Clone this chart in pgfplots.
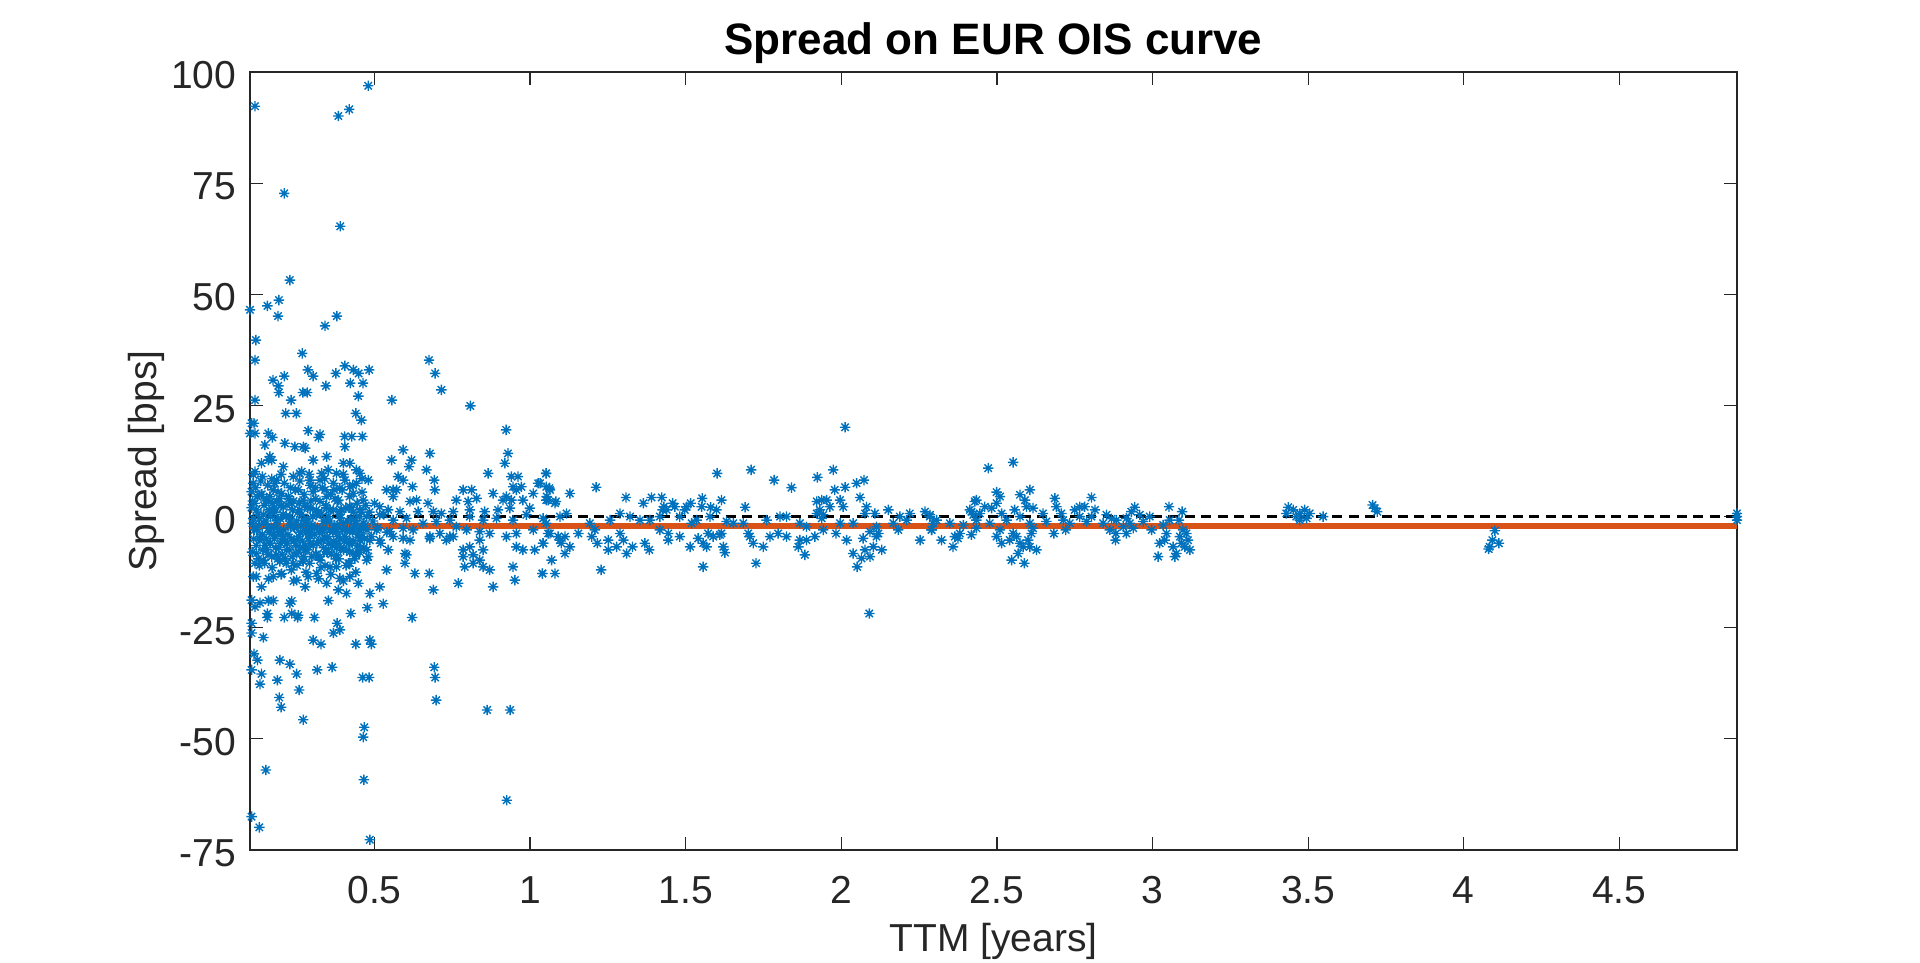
\documentclass[border=0pt]{standalone}
\usepackage{fontspec}
\setmainfont{Liberation Sans}
\usepackage{pgfplots}
\usepackage{pgfplotstable}
\pgfplotsset{compat=1.18}
\definecolor{mblue}{HTML}{0072BD}
\definecolor{morange}{HTML}{D95319}
\definecolor{axgray}{HTML}{262626}
\pgfdeclareplotmark{mstar}{%
  \pgfpathmoveto{\pgfqpoint{-\pgfplotmarksize}{0pt}}\pgfpathlineto{\pgfqpoint{\pgfplotmarksize}{0pt}}%
  \pgfpathmoveto{\pgfqpoint{0pt}{-\pgfplotmarksize}}\pgfpathlineto{\pgfqpoint{0pt}{\pgfplotmarksize}}%
  \pgfpathmoveto{\pgfqpoint{-.7071\pgfplotmarksize}{-.7071\pgfplotmarksize}}\pgfpathlineto{\pgfqpoint{.7071\pgfplotmarksize}{.7071\pgfplotmarksize}}%
  \pgfpathmoveto{\pgfqpoint{-.7071\pgfplotmarksize}{.7071\pgfplotmarksize}}\pgfpathlineto{\pgfqpoint{.7071\pgfplotmarksize}{-.7071\pgfplotmarksize}}%
  \pgfusepathqstroke}
\pgfplotstableread{
x y
0.116 92.3
0.384 90.1
0.419 91.6
0.48 96.9
0.21 72.7
0.39 65.3
0.228 53.2
0.1 46.5
0.156 47.4
0.193 48.7
0.19 45.1
0.341 42.9
0.379 45.1
0.119 39.7
0.116 35.2
0.268 36.7
0.286 33
0.303 31.6
0.174 30.7
0.21 31.6
0.191 29.4
0.193 27.9
0.116 26.2
0.232 26.2
0.27 27.9
0.284 27.9
0.344 29.4
0.376 32.2
0.405 33.9
0.432 33
0.449 32.2
0.483 33
0.422 30
0.463 30
0.448 27.1
0.215 23.2
0.249 23.2
0.105 21
0.113 21
0.1 18.7
0.116 18.7
0.44 23.2
0.458 21.7
0.556 26.2
0.675 35.2
0.695 32.2
0.715 28.5
0.808 24.9
0.923 19.5
0.159 18.7
0.172 17.8
0.287 19.3
0.325 18.5
0.32 17.8
0.404 18
0.427 18
0.461 18
0.116 -20.3
0.132 -19.4
0.159 -18.9
0.175 -18.9
0.228 -19.5
0.234 -19
0.156 -21.8
0.156 -22.7
0.21 -22.7
0.234 -21.8
0.253 -22.7
0.255 -22.2
0.307 -22.7
0.352 -18.9
0.424 -21.8
0.477 -20.5
0.528 -19.6
0.621 -22.7
0.38 -24
0.389 -25.5
0.368 -26.2
0.105 -24
0.105 -26.2
0.143 -27.2
0.303 -27.8
0.328 -28.7
0.44 -28.7
0.485 -27.8
0.49 -28.7
0.113 -30.9
0.124 -32.3
0.196 -32.3
0.228 -33.2
0.105 -34.5
0.137 -35.4
0.132 -37.7
0.188 -36.8
0.25 -35.4
0.316 -34.5
0.364 -33.9
0.462 -36.2
0.483 -36.2
0.692 -33.9
0.695 -36.2
0.698 -41.3
0.258 -39
0.194 -40.7
0.2 -42.9
0.271 -45.7
0.862 -43.5
0.936 -43.5
0.467 -47.4
0.464 -49.6
0.151 -57
0.466 -59.2
0.925 -63.8
0.105 -67.5
0.13 -69.9
0.485 -72.7
0.105 -18.8
0.148 16.1
0.212 16.5
0.244 15.7
0.271 15.7
0.277 15.4
0.405 15.7
0.592 15.0
0.678 14.2
0.929 14.2
0.164 13.5
0.159 12.7
0.137 12.0
0.17 12.7
0.346 13.5
0.303 12.7
0.4 12.0
0.421 12.0
0.555 12.7
0.619 12.7
0.611 11.2
0.919 12.0
0.116 10.1
0.111 9.4
0.207 11.2
0.266 10.1
0.26 9.7
0.33 9.7
0.351 10.5
0.378 9.7
0.442 10.5
0.453 9.7
0.576 9.0
0.667 10.5
0.865 9.7
0.94 9.0
0.961 9.0
1.052 9.7
0.186 8.2
0.18 7.5
0.239 9.0
0.293 8.2
0.325 8.2
0.368 7.5
0.405 8.2
0.442 7.5
0.48 8.2
0.592 8.2
0.692 8.2
0.945 6.7
0.972 6.7
1.026 7.5
0.105 5.6
0.132 4.9
0.175 6.0
0.164 4.5
0.202 5.2
0.255 6.0
0.223 4.5
0.303 5.6
0.341 6.0
0.389 6.4
0.432 5.2
0.421 6.7
0.539 6.0
0.56 6.0
0.571 6.0
0.622 6.7
0.694 6.0
0.785 6.0
0.812 6.0
0.881 5.2
0.924 4.5
0.956 6.0
1.01 5.2
1.052 6.7
0.116 3.0
0.154 3.7
0.186 3.4
0.234 3.0
0.271 3.7
0.325 3.4
0.346 4.5
0.384 3.7
0.464 3.7
0.56 4.5
0.614 3.4
0.635 3.7
0.672 3.0
0.763 3.7
0.801 3.4
0.828 4.1
0.913 3.7
0.94 3.7
0.977 3.7
1.052 3.7
0.121 1.5
0.164 1.1
0.207 2.2
0.26 1.5
0.293 1.9
0.357 1.5
0.389 1.1
0.421 2.2
0.453 1.5
0.517 2.2
0.544 1.5
0.582 1.1
0.64 1.1
0.689 1.1
0.715 0.7
0.753 1.1
0.806 1.5
0.854 1.1
0.897 1.5
0.935 1.9
0.999 1.9
0.111 -0.4
0.143 0.4
0.186 -0.8
0.228 0
0.271 -0.8
0.314 0.4
0.346 -1.1
0.389 -0.4
0.432 -0.8
0.475 0
0.517 0.4
0.56 -0.8
0.603 -0.4
0.656 -1.5
0.699 -1.1
0.742 -0.8
0.763 -2.3
0.806 0
0.849 -0.8
0.892 -0.4
0.945 -0.8
0.988 0.4
1.042 -0.4
1.052 -1.5
0.121 -3.0
0.159 -2.6
0.196 -3.4
0.239 -2.3
0.287 -3.0
0.335 -2.6
0.378 -3.4
0.421 -3.0
0.464 -2.6
0.507 -3.0
0.549 -3.4
0.592 -2.6
0.624 -3.0
0.678 -4.5
0.71 -3.8
0.753 -4.5
0.796 -3.0
0.838 -3.4
0.87 -3.8
0.956 -3.8
1.01 -3.0
1.058 -3.8
0.132 -5.3
0.164 -6.0
0.207 -4.9
0.25 -5.3
0.293 -6.0
0.335 -5.3
0.378 -6.0
0.421 -5.6
0.453 -5.3
0.485 -5.3
0.517 -5.3
0.56 -4.5
0.592 -4.9
0.614 -5.3
0.678 -4.9
0.731 -5.3
0.742 -4.5
0.785 -7.5
0.806 -6.8
0.838 -5.3
0.849 -7.5
0.924 -4.5
0.956 -6.8
0.977 -7.5
1.015 -7.5
1.042 -6.0
0.121 -8.3
0.154 -7.5
0.186 -8.6
0.218 -7.5
0.25 -8.3
0.277 -7.5
0.314 -8.6
0.346 -7.9
0.378 -8.6
0.41 -7.5
0.442 -8.3
0.475 -7.5
0.544 -7.5
0.598 -8.3
0.603 -8.6
0.785 -9.0
0.817 -8.6
0.838 -9.8
0.116 -10.5
0.143 -9.8
0.196 -10.1
0.239 -10.5
0.271 -10.1
0.325 -9.8
0.357 -11.3
0.378 -11.3
0.421 -10.5
0.475 -9.8
0.598 -10.5
0.79 -11.3
0.817 -10.5
0.849 -11.3
0.87 -12.0
0.945 -11.3
0.111 -13.5
0.175 -13.5
0.202 -12.8
0.25 -14.3
0.287 -13.5
0.314 -12.8
0.346 -15.0
0.389 -13.9
0.421 -13.5
0.448 -15.0
0.539 -12.0
0.63 -12.8
0.676 -12.8
0.769 -15.0
0.881 -15.8
0.951 -14.3
1.039 -12.8
0.137 -15.8
0.277 -15.8
0.384 -16.5
0.41 -17.3
0.485 -17.3
0.517 -15.8
0.689 -16.5
0.105 2.0
0.108 -1.5
0.112 -5.0
0.118 6.5
0.125 0.5
0.128 -2.0
0.13 -11.0
0.135 8.0
0.14 -4.0
0.145 2.5
0.148 -6.5
0.152 -1.0
0.157 7.0
0.162 -3.5
0.166 0.0
0.17 -9.0
0.172 3.0
0.178 -5.0
0.18 1.0
0.184 -2.5
0.19 5.5
0.193 -7.0
0.198 -0.5
0.2 2.5
0.205 -4.5
0.21 7.5
0.213 -9.5
0.216 0.0
0.22 -6.0
0.225 4.0
0.23 -2.0
0.233 -12.0
0.237 1.5
0.242 -5.5
0.246 6.0
0.25 -1.0
0.255 -8.0
0.258 3.0
0.262 -3.5
0.266 0.5
0.27 -10.0
0.274 5.0
0.278 -6.5
0.282 -1.5
0.286 2.0
0.29 -4.0
0.294 7.0
0.298 -9.0
0.302 0.0
0.306 -2.5
0.31 4.0
0.315 -6.0
0.32 1.0
0.324 -3.5
0.328 -11.5
0.332 6.5
0.336 -1.0
0.34 -5.0
0.344 2.5
0.348 -8.0
0.352 0.0
0.356 -3.0
0.36 5.0
0.364 -6.5
0.368 1.5
0.372 -2.0
0.376 -9.5
0.38 3.5
0.384 -4.5
0.388 0.5
0.392 -7.0
0.396 6.0
0.4 -1.5
0.404 -5.5
0.408 2.0
0.412 -3.0
0.416 -10.5
0.42 4.5
0.424 -0.5
0.428 -6.0
0.432 1.0
0.436 -2.5
0.44 -8.5
0.444 3.0
0.448 -4.0
0.452 0.0
0.456 -7.0
0.46 5.5
0.464 -1.5
0.468 -5.0
0.472 2.5
0.476 -3.0
0.48 -9.0
0.484 1.0
0.49 -4.5
0.495 -1.0
0.5 3.0
0.51 -2.5
0.52 -6.0
0.53 0.5
0.54 -3.5
0.107 -8.0
0.109 3.5
0.114 -3.0
0.12 -6.5
0.123 4.5
0.127 -9.5
0.131 -0.5
0.134 -4.5
0.138 5.0
0.141 -7.5
0.144 -1.5
0.147 -10.5
0.15 3.5
0.153 -5.0
0.158 -8.5
0.161 1.5
0.165 -6.0
0.168 -2.5
0.171 -11.5
0.176 -4.0
0.179 2.0
0.182 -7.0
0.187 -1.0
0.189 -9.5
0.192 -3.5
0.196 4.0
0.199 -6.0
0.203 -8.5
0.206 0.5
0.209 -3.0
0.212 -5.5
0.217 -10.5
0.219 2.5
0.222 -4.0
0.226 -7.5
0.229 -1.0
0.232 -5.0
0.236 -9.0
0.24 3.5
0.243 -2.5
0.247 -6.5
0.251 -11.0
0.254 1.0
0.257 -4.5
0.261 -7.0
0.264 -2.0
0.268 -5.5
0.272 -9.0
0.275 2.5
0.279 -3.5
0.283 -7.5
0.285 -0.5
0.289 -5.0
0.292 -10.5
0.296 3.5
0.299 -2.0
0.303 -6.5
0.307 -4.0
0.311 -8.5
0.313 1.5
0.317 -2.5
0.321 -5.5
0.325 -9.0
0.329 0.5
0.333 -3.5
0.337 -7.0
0.341 -11.0
0.345 2.0
0.349 -4.5
0.353 -6.0
0.357 -1.0
0.361 -8.5
0.365 -3.5
0.369 -5.5
0.373 4.0
0.377 -7.0
0.381 -2.0
0.385 -9.5
0.389 -5.0
0.393 1.5
0.397 -3.0
0.401 -7.5
0.405 -4.5
0.409 -11.0
0.413 -1.0
0.417 -6.0
0.421 -8.0
0.425 2.0
0.429 -3.5
0.433 -5.5
0.437 -9.5
0.441 -1.5
0.445 -6.5
0.449 -3.0
0.453 -8.0
0.457 1.0
0.461 -4.5
0.465 -7.0
0.469 -2.0
0.11 7.5
0.14 9.0
0.17 8.5
0.2 9.5
0.23 6.5
0.26 8.0
0.29 9.5
0.31 6.5
0.34 8.5
0.37 6.0
0.4 9.5
0.43 7.0
0.46 8.5
0.12 -13.5
0.16 -14.0
0.2 -13.0
0.24 -14.5
0.28 -12.5
0.32 -14.0
0.36 -13.0
0.4 -14.5
0.44 -12.5
1.032 7.5
1.051 9.7
1.062 6.4
1.053 4.5
1.058 3.7
1.064 6.0
1.08 3.0
1.083 3.4
1.128 5.2
1.212 6.6
1.308 4.3
1.364 3.0
1.39 4.3
1.423 4.3
1.43 2.2
1.439 1.5
1.426 1.5
1.458 3.0
1.465 2.2
1.503 2.2
1.516 3.0
1.497 1.5
1.553 4.1
1.551 2.2
1.58 2.1
1.599 1.5
1.615 3.7
1.601 9.7
1.691 2.1
1.71 10.5
1.784 8.2
1.84 6.5
1.923 8.8
1.974 10.5
1.979 6.0
2.012 6.6
2.049 7.5
2.073 8.2
2.06 4.3
2.012 20.1
1.921 3.4
1.937 3.7
1.953 3.7
1.963 2.2
1.996 3.7
2.006 2.2
1.931 1.5
1.942 0.4
1.921 0.7
1.937 -0.4
2.081 2.2
2.108 0.7
2.076 0.7
2.151 1.5
2.188 0.0
2.22 0.7
2.269 1.1
2.285 0.4
2.09 -21.8
2.051 -11.3
2.038 -8.3
2.065 -9.4
2.092 -9.0
2.076 -7.5
2.103 -6.8
2.13 -7.5
2.017 -5.3
2.07 -4.9
2.113 -4.5
2.092 -3.4
2.119 -3.8
1.042 -6.0
1.069 -9.8
1.04 -12.8
1.08 -12.8
1.064 -3.8
1.09 -4.5
1.1 -6.0
1.112 -4.5
1.128 -6.8
1.112 -8.3
1.096 -5.3
1.155 -3.8
1.198 -4.5
1.208 -3.0
1.216 -6.0
1.251 -5.3
1.251 -7.5
1.278 -6.8
1.289 -3.8
1.3 -5.3
1.31 -8.3
1.329 -6.8
1.228 -12.0
1.369 -6.0
1.383 -7.5
1.417 -3.0
1.444 -5.3
1.444 -3.8
1.481 -4.5
1.514 -6.8
1.54 -4.9
1.556 -6.0
1.567 -6.8
1.588 -4.5
1.615 -3.8
1.621 -6.8
1.626 -8.1
1.61 -4.1
1.572 -3.8
1.556 -11.3
1.701 -3.8
1.706 -4.5
1.717 -6.0
1.749 -6.8
1.771 -4.5
1.797 -3.8
1.824 -4.5
1.867 -5.3
1.862 -6.8
1.883 -8.6
1.888 -5.3
1.915 -4.5
1.942 -3.0
1.983 -3.8
1.726 -10.5
2.183 -3.0
2.253 -5.3
2.29 -3.0
1.096 0.0
1.117 0.7
1.192 -1.5
1.257 -0.8
1.289 0.7
1.321 0.0
1.353 -0.8
1.385 -0.8
1.417 0.0
1.481 0.0
1.519 -1.5
1.535 -0.8
1.578 0.0
1.631 -1.1
1.653 -1.5
1.685 -1.5
1.76 -0.8
1.803 0.0
1.824 0.0
1.867 -1.5
1.888 -2.3
1.996 -1.5
2.038 -1.5
2.113 -2.3
2.167 -1.5
2.21 -0.8
2.295 -1.5
2.472 10.9
2.552 12.2
2.499 5.5
2.51 4.5
2.434 3.7
2.429 3.4
2.499 3.0
2.461 2.2
2.483 1.9
2.574 4.9
2.606 6.0
2.59 3.7
2.595 2.2
2.616 1.9
2.557 1.5
2.515 0.7
2.418 1.1
2.445 0.7
2.424 0.4
2.413 1.5
2.686 4.1
2.691 2.2
2.648 0.7
2.707 0.7
2.75 1.5
2.766 2.2
2.782 2.2
2.804 4.3
2.815 1.5
2.852 0.4
2.868 -0.5
2.804 0.0
2.766 0.0
2.713 -0.8
2.943 2.1
2.932 1.1
2.959 0.4
2.916 -0.4
2.927 -1.5
2.906 -2.3
2.938 -2.6
3.053 2.2
3.095 1.1
3.055 -0.8
3.085 -0.8
2.29 -3.0
2.322 -5.3
2.359 -6.8
2.365 -4.5
2.381 -3.8
2.375 -4.9
2.418 -4.1
2.434 -2.6
2.499 -4.5
2.515 -6.0
2.51 -3.0
2.541 -5.3
2.552 -3.8
2.547 -9.8
2.568 -8.3
2.588 -10.5
2.574 -6.0
2.6 -5.3
2.606 -6.8
2.627 -7.5
2.584 -6.8
2.611 -3.8
2.616 -2.6
2.563 -4.5
2.683 -3.8
2.721 -3.0
2.863 -3.0
2.882 -3.8
2.881 -5.3
2.916 -3.8
2.997 -3.0
3.018 -9.0
3.023 -6.0
3.045 -3.8
3.039 -5.3
3.066 -6.8
3.072 -9.0
3.077 -8.3
3.088 -4.5
3.093 -6.0
3.109 -3.8
3.114 -5.3
3.12 -7.5
3.104 -6.8
3.098 -3.0
2.284 0.0
2.306 -0.8
2.349 -1.5
2.392 -1.9
2.434 -0.8
2.477 -1.5
2.531 -0.8
2.574 0.0
2.606 -1.5
2.659 -1.1
2.734 -1.5
2.788 -1.1
2.841 -1.5
2.884 -0.8
2.97 -1.1
2.991 0.0
3.034 -1.9
3.436 2.1
3.43 0.7
3.452 1.5
3.473 0.7
3.489 1.5
3.505 0.7
3.462 0.0
3.473 -0.8
3.495 -0.4
3.548 0.0
3.707 2.6
3.714 1.9
3.722 1.1
4.1 -3.2
4.092 -5.3
4.113 -6.0
4.083 -6.8
4.08 -7.3
4.878 0.7
4.878 0.0
4.878 -0.8
}\spreaddata
\begin{document}
\begin{tikzpicture}
\begin{axis}[
  at={(0,0)}, anchor=south west,
  width=743.5bp, height=389bp, scale only axis,
  xmin=0.1, xmax=4.878, ymin=-75, ymax=100,
  xtick={0.5,1,1.5,2,2.5,3,3.5,4,4.5},
  xticklabels={0.5,1,1.5,2,2.5,3,3.5,4,4.5},
  ytick={-75,-50,-25,0,25,50,75,100},
  yticklabels={-75,-50,-25,0,25,50,75,100},
  tick align=inside,
  major tick length=6.5bp,
  axis line style={axgray, line width=0.6bp},
  every tick/.style={axgray, line width=0.6bp},
  clip=false,
  tick label style={font=\fontsize{19.5bp}{23bp}\selectfont, text=axgray, inner sep=0pt},
  xticklabel style={anchor=base, yshift=-26.7bp},
  yticklabel style={anchor=base east, xshift=-6.65bp, yshift=-8.35bp},
  every axis title shift=0pt,
  title={Spread on EUR OIS curve},
  title style={at={(axis description cs:0.5,1.0225)}, anchor=base, yshift=0pt, font=\bfseries\fontsize{22bp}{26bp}\selectfont, text=black, inner sep=0pt},
  xlabel={TTM [years]},
  xlabel style={at={(axis description cs:0.5,-0.1307)}, anchor=base, font=\fontsize{19.5bp}{23bp}\selectfont, text=axgray, inner sep=0pt},
  ylabel={Spread [bps]},
  ylabel style={at={(axis description cs:-0.06254,0.5)}, anchor=base, rotate=0, font=\fontsize{19.5bp}{23bp}\selectfont, text=axgray, inner sep=0pt},
]
\addplot[only marks, mark=mstar, mark size=2.6bp, mblue, mark options={line width=0.7bp}] table[x=x, y=y] {\spreaddata};
\addplot[black, line width=1.3bp, dash pattern=on 5bp off 3.2bp] coordinates {(0.1,0) (4.878,0)};
\addplot[morange, line width=2.6bp] coordinates {(0.1,-2.1) (4.878,-2.1)};
\end{axis}
\pgfresetboundingbox
\path[use as bounding box] (-125bp,-56.5bp) rectangle (835bp,425bp);
\end{tikzpicture}
\end{document}
